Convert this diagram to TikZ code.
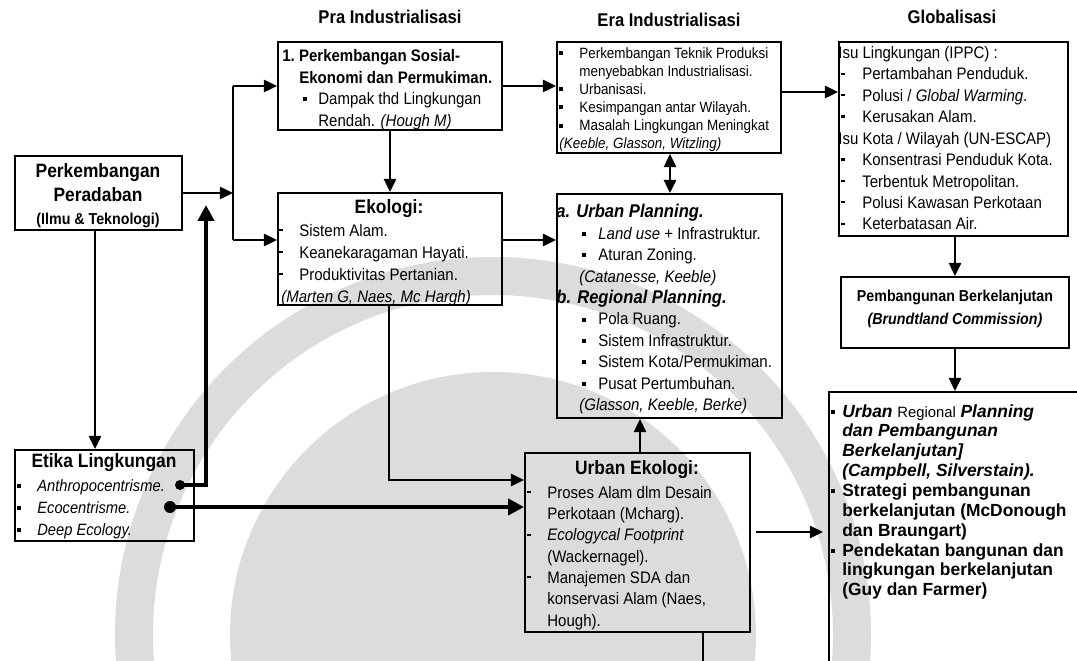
\documentclass[tikz,border=0pt]{standalone}
\usepackage{fontspec}
\setmainfont{Liberation Sans}[FakeStretch=0.9]
\usetikzlibrary{arrows.meta,fit}
\newlength\pxu
\setlength\pxu{0.02cm}
\newcommand\bl[1]{\rule[0.2em]{4\pxu}{4\pxu}\hspace*{#1\pxu}}
\newcommand\mk[1]{\rule[0.3em]{4\pxu}{1.3pt}\hspace*{#1\pxu}}
\newcommand\ind[1]{\hspace*{#1\pxu}}
\definecolor{wmgray}{HTML}{DCDCDC}
\begin{document}
\begin{tikzpicture}[x=0.02cm,y=-0.02cm,
 box/.style={draw,line width=1.1pt,inner sep=0pt},
 txt/.style={anchor=north west,inner sep=0pt,align=left},
 ctr/.style={inner sep=0pt,align=center},
 hdr/.style={inner sep=0pt,font=\bfseries\fontsize{10.5}{12}\selectfont},
 link/.style={line width=1.1pt},
 conn/.style={line width=1.1pt,-{Triangle[length=7.5pt,width=7pt]}},
 conn2/.style={line width=1.1pt,{Triangle[length=7.5pt,width=7pt]}-{Triangle[length=7.5pt,width=7pt]}},
 heavy/.style={line width=2.8pt},
 heavyarr/.style={line width=2.8pt,-{Triangle[length=9pt,width=9pt]}},
 dot/.style={circle,fill,inner sep=0pt},
 wm/.style={fill=wmgray}]
\useasboundingbox (0,0) rectangle (1077,661);
\fill[white] (0,0) rectangle (1077,661);

% watermark (light grey emblem behind the diagram)
\begin{scope}
\clip (0,0) rectangle (1077,661);
\fill[wm,even odd rule] (493,635) circle[radius=378] (493,635) circle[radius=340];
\fill[wm] (493,635) circle[radius=263];
\end{scope}

% headers
\node[hdr] (h1) at (390,17) {Pra Industrialisasi};
\node[hdr] (h2) at (669,20) {Era Industrialisasi};
\node[hdr] (h3) at (952,17) {Globalisasi};

% boxes
\node[box,fit={(15,156)(182,230)}] (pp) {};
\node[box,fit={(278,42)(502,130)}] (pra1) {};
\node[box,fit={(278,193)(502,305)}] (eko) {};
\node[box,fit={(557,42)(781,153)}] (era1) {};
\node[box,fit={(557,194)(782,418)}] (up) {};
\node[box,fit={(525,453)(750,632)}] (ue) {};
\node[box,fit={(839,42)(1068,236)}] (glob) {};
\node[box,fit={(841,277)(1069,348)}] (pb) {};
\node[box,fit={(829,392)(1085,700)}] (fin) {};
\node[box,fit={(15,450)(194,541)}] (et) {};

% texts
\node[ctr,font=\bfseries\fontsize{11}{13.3}\selectfont] (ppT) at (98,196)
 {Perkembangan\\Peradaban\\{\fontsize{9}{13.3}\selectfont (Ilmu \& Teknologi)}};

\node[txt,font=\fontsize{9.5}{12.3}\selectfont] (pra1T) at (282,49)
 {\textbf{1.~Perkembangan Sosial-}\\
  \ind{17}\textbf{Ekonomi dan Permukiman.}\\
  \ind{21}\bl{11}Dampak thd Lingkungan\\
  \ind{36}Rendah. \textit{(Hough M)}};

\node[ctr,font=\bfseries\fontsize{11}{13}\selectfont] (ekoT) at (389,209) {Ekologi:};
\node[txt,font=\fontsize{9.5}{12.5}\selectfont] (ekoB) at (279,224)
 {\mk{16}Sistem Alam.\\
  \mk{16}Keanekaragaman Hayati.\\
  \mk{16}Produktivitas Pertanian.\\
  \ind{2}\textit{(Marten G, Naes, Mc Hargh)}};

\node[txt,font=\fontsize{8.5}{10.3}\selectfont] (era1T) at (559,47)
 {\bl{16}Perkembangan Teknik Produksi\\
  \ind{20}menyebabkan Industrialisasi.\\
  \bl{16}Urbanisasi.\\
  \bl{16}Kesimpangan antar Wilayah.\\
  \bl{16}Masalah Lingkungan Meningkat\\
  \textit{(Keeble, Glasson, Witzling)}};

\node[txt,font=\fontsize{9.5}{12.2}\selectfont] (upT) at (556,204)
 {{\fontsize{10.5}{12.2}\selectfont\bfseries\itshape a. Urban Planning.}\\
  \ind{26}\bl{12}\textit{Land use} + Infrastruktur.\\
  \ind{26}\bl{12}Aturan Zoning.\\
  \ind{23}\textit{(Catanesse, Keeble)}\\
  {\fontsize{10.5}{12.2}\selectfont\bfseries\itshape b. Regional Planning.}\\
  \ind{26}\bl{12}Pola Ruang.\\
  \ind{26}\bl{12}Sistem Infrastruktur.\\
  \ind{26}\bl{12}Sistem Kota/Permukiman.\\
  \ind{26}\bl{12}Pusat Pertumbuhan.\\
  \ind{23}\textit{(Glasson, Keeble, Berke)}};

\node[ctr,font=\bfseries\fontsize{11}{13}\selectfont] (ueT) at (637,470) {Urban Ekologi:};
\node[txt,font=\fontsize{9.5}{12.1}\selectfont] (ueB) at (527,486)
 {\mk{16}Proses Alam dlm Desain\\
  \ind{20}Perkotaan (Mcharg).\\
  \mk{16}\textit{Ecologycal Footprint}\\
  \ind{20}(Wackernagel).\\
  \mk{16}Manajemen SDA dan\\
  \ind{20}konservasi Alam (Naes,\\
  \ind{20}Hough).};

\node[txt,font=\fontsize{9.5}{12.2}\selectfont] (globT) at (838,46)
 {Isu Lingkungan (IPPC) :\\
  \ind{3}\mk{17}Pertambahan Penduduk.\\
  \ind{3}\mk{17}Polusi / \textit{Global Warming}.\\
  \ind{3}\mk{17}Kerusakan Alam.\\
  Isu Kota / Wilayah (UN-ESCAP)\\
  \ind{3}\mk{17}Konsentrasi Penduduk Kota.\\
  \ind{3}\mk{17}Terbentuk Metropolitan.\\
  \ind{3}\mk{17}Polusi Kawasan Perkotaan\\
  \ind{3}\mk{17}Keterbatasan Air.};

\node[ctr,font=\bfseries\fontsize{9}{13}\selectfont] (pbT) at (955,309)
 {Pembangunan Berkelanjutan\\\textit{(Brundtland Commission)}};

\node[txt,font=\bfseries\fontsize{10}{11.3}\selectfont\addfontfeature{FakeStretch=0.99}] (finT) at (831,404)
 {\bl{7}\textit{Urban} {\mdseries\fontsize{8.5}{11.3}\selectfont Regional} \textit{Planning}\\
  \ind{11}\textit{dan Pembangunan}\\
  \ind{11}\textit{Berkelanjutan]}\\
  \ind{11}\textit{(Campbell, Silverstain).}\\
  \bl{7}Strategi pembangunan\\
  \ind{11}berkelanjutan (McDonough\\
  \ind{11}dan Braungart)\\
  \bl{7}Pendekatan bangunan dan\\
  \ind{11}lingkungan berkelanjutan\\
  \ind{11}(Guy dan Farmer)};

\node[ctr,font=\bfseries\fontsize{11}{13}\selectfont] (etT) at (104,463) {Etika Lingkungan};
\node[txt,font=\itshape\fontsize{9.3}{12.5}\selectfont] (etB) at (17,479)
 {\bl{16}Anthropocentrisme.\\
  \bl{16}Ecocentrisme.\\
  \bl{16}Deep Ecology.};

% dots
\node[dot,minimum size=10\pxu] (antdot) at (180,485) {};
\node[dot,minimum size=12\pxu] (ecodot) at (170,507) {};

% coordinates
\coordinate (jt) at (233,86);
\coordinate (jb) at (233,240);
\coordinate (cx) at (95,0);
\coordinate (thtip) at (206,205);
\coordinate (ek) at (389,0);
\coordinate (ey) at (0,480);
\coordinate (ey2) at (0,240);
\coordinate (c670) at (670,0);
\coordinate (c640) at (640,0);
\coordinate (c92) at (0,92);
\coordinate (c955) at (955,0);
\coordinate (c532) at (0,532);
\coordinate (ueTip) at (823,532);
\coordinate (c703) at (703,0);
\coordinate (ueEnd) at (703,670);

% connectors
\draw[conn] (pp.east) -- (pp.east -| jt);
\draw[link] (jt) -- (jb);
\draw[conn] (jt) -- (jt -| pra1.west);
\draw[conn] (jb) -- (jb -| eko.west);
\draw[conn] (pp.south -| cx) -- (et.north -| cx);
\draw[heavy] (antdot.center) -| ([yshift=-0.4cm]thtip);
\draw[heavyarr] ([yshift=-0.5cm]thtip) -- (thtip);
\draw[heavyarr] (ecodot.center) -- (ecodot.center -| ue.west);
\draw[conn] (pra1.south) -- (eko.north);
\draw[conn] (pra1.east) -- (pra1.east -| era1.west);
\draw[conn] (eko.east |- ey2) -- (up.west |- ey2);
\draw[conn2] (era1.south -| c670) -- (up.north -| c670);
\draw[conn] (ue.north -| c640) -- (up.south -| c640);
\draw[conn] (eko.south -| ek) |- (ue.west |- ey);
\draw[conn] (era1.east |- c92) -- (glob.west |- c92);
\draw[conn] (glob.south -| c955) -- (pb.north -| c955);
\draw[conn] (pb.south -| c955) -- (fin.north -| c955);
\draw[conn] ([xshift=0.1cm]ue.east |- c532) -- (ueTip);
\draw[link] (ue.south -| c703) -- (ueEnd);
\end{tikzpicture}
\end{document}
